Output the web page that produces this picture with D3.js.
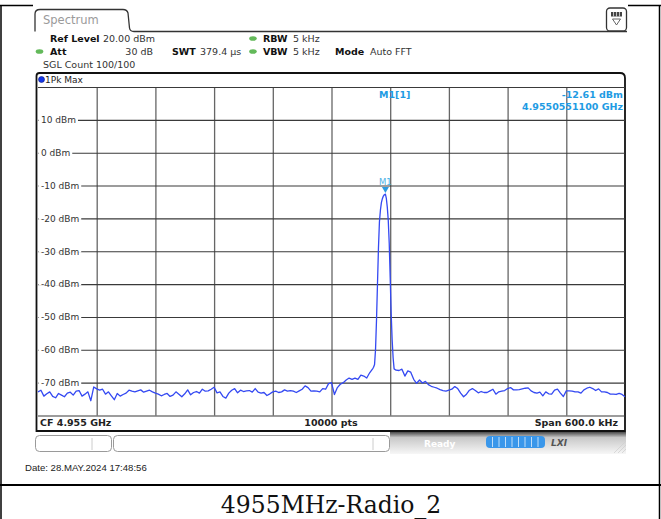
<!DOCTYPE html>
<html><head><meta charset="utf-8">
<script src="https://cdn.jsdelivr.net/npm/d3@7"></script>
<style>html,body{margin:0;padding:0;background:#fff;}svg{display:block;}</style>
</head><body>
<svg id="c" width="661" height="519"></svg>
<script>
// ---------- data ----------
const caption = "4955MHz-Radio_2";
const tabTitle = "Spectrum";
const headerRow1 = [["Ref Level", "20.00 dBm"], ["RBW", "5 kHz"]];
const headerRow2 = [["Att", "30 dB"], ["SWT", "379.4 µs"], ["VBW", "5 kHz"], ["Mode", "Auto FFT"]];
const sglCount = "SGL Count 100/100";
const traceName = "1Pk Max";
const levelTicks = [10, 0, -10, -20, -30, -40, -50, -60, -70];
const levelTickLabels = ["10 dBm", "0 dBm", "-10 dBm", "-20 dBm", "-30 dBm", "-40 dBm", "-50 dBm", "-60 dBm", "-70 dBm"];
const levelRange = [-80, 20];
const spanKHz = [-300, 300];
const freqGridKHz = [-240, -180, -120, -60, 0, 60, 120, 180, 240];
const footerLabels = ["CF 4.955 GHz", "10000 pts", "Span 600.0 kHz"];
const markerName = "M1";
const markerKHz = 55.11;
const markerDbm = -12.61;
const markerReadout = ["M1[1]", "-12.61 dBm", "4.9550551100 GHz"];
const statusText = "Ready";
const dateText = "Date: 28.MAY.2024  17:48:56";
// trace: [offset from CF in kHz, level in dBm]
const trace = [
[-300,-72.8],[-297,-72.3],[-294,-74.1],[-291,-73.4],[-288,-72.8],[-285,-74.2],[-282,-74.6],[-279,-73.3],[-276,-73.8],[-273,-74.3],
[-270,-73.2],[-267,-72.9],[-264,-73.8],[-261,-72.6],[-258,-72.4],[-255,-74.1],[-252,-73.5],[-249,-72.8],[-246,-75.5],[-243,-71.3],
[-240,-71.9],[-237,-72.3],[-234,-72.0],[-231,-73.5],[-228,-72.8],[-225,-74.0],[-222,-75.2],[-219,-73.3],[-216,-74.1],[-213,-73.6],
[-210,-73.2],[-207,-72.3],[-204,-72.6],[-201,-72.8],[-198,-72.5],[-195,-72.2],[-192,-72.9],[-189,-72.6],[-186,-72.3],[-183,-72.8],
[-180,-73.2],[-177,-73.5],[-174,-74.0],[-171,-73.6],[-168,-73.3],[-165,-74.2],[-162,-73.8],[-159,-72.8],[-156,-73.5],[-153,-74.3],
[-150,-73.4],[-147,-72.2],[-144,-73.7],[-141,-73.0],[-138,-72.7],[-135,-73.2],[-132,-72.0],[-129,-72.6],[-126,-72.5],[-123,-72.0],
[-120,-71.4],[-117,-73.1],[-114,-72.8],[-111,-74.2],[-108,-74.7],[-105,-73.2],[-102,-72.3],[-99,-71.8],[-96,-73.1],[-93,-72.3],
[-90,-72.7],[-87,-72.5],[-84,-72.4],[-81,-72.9],[-78,-71.8],[-75,-72.9],[-72,-73.2],[-69,-73.0],[-66,-73.9],[-63,-73.4],
[-60,-72.8],[-57,-72.6],[-54,-73.0],[-51,-72.8],[-48,-72.2],[-45,-72.6],[-42,-72.4],[-39,-72.6],[-36,-73.0],[-33,-72.5],
[-30,-72.0],[-27,-71.0],[-24,-71.5],[-21,-72.6],[-18,-72.5],[-15,-72.6],[-12,-72.8],[-9,-71.8],[-6,-72.0],[-3,-70.3],
[0,-70.0],[3,-73.6],[6,-71.5],[9,-70.5],[12,-70.0],[15,-69.2],[18,-68.6],[21,-69.0],[24,-68.6],[27,-69.0],
[30,-67.7],[33,-68.0],[36,-68.6],[39,-67.0],[42,-65.8],[43,-65.3],[44,-64.5],[45,-60],[46,-51],[47,-40],
[48,-29],[49,-21],[50,-17.5],[51,-15.2],[52,-14.0],[53,-13.2],[54,-12.8],[55.1,-12.61],[56,-13.8],[57,-16.5],
[58,-20.5],[59,-27.5],[60,-38],[61,-49],[62,-57],[63,-62.5],[64,-65.8],[66,-66.2],[69,-66.3],[72,-65.9],
[75,-68.0],[78,-66.4],[81,-66.8],[84,-69.0],[87,-70.2],[90,-69.2],[93,-70.1],[96,-69.6],[99,-70.6],[102,-71.1],
[105,-71.4],[108,-71.7],[111,-72.1],[114,-72.4],[117,-72.6],[120,-72.3],[123,-72.0],[126,-71.2],[129,-71.8],[132,-73.2],
[135,-74.3],[138,-73.5],[141,-72.3],[144,-71.8],[147,-72.4],[150,-73.1],[153,-72.7],[156,-73.0],[159,-73.0],[162,-72.5],
[165,-72.0],[168,-73.5],[171,-72.8],[174,-72.6],[177,-72.4],[180,-71.8],[183,-71.5],[186,-72.2],[189,-72.2],[192,-72.1],
[195,-71.9],[198,-71.7],[201,-71.6],[204,-72.5],[207,-73.0],[210,-73.2],[213,-72.9],[216,-74.0],[219,-72.8],[222,-73.4],
[225,-73.5],[228,-72.3],[231,-72.0],[234,-73.2],[237,-74.2],[240,-72.5],[243,-72.5],[246,-72.6],[249,-72.8],[252,-72.8],
[255,-73.2],[258,-72.2],[261,-71.7],[264,-71.4],[267,-71.8],[270,-72.4],[273,-71.9],[276,-72.8],[279,-72.8],[282,-73.0],
[285,-73.5],[288,-73.5],[291,-73.6],[294,-73.3],[297,-73.6],[300,-74.3]
];

// ---------- layout ----------
const svg = d3.select("#c");
const W = 661, H = 519;
const P = {left: 38, right: 625, top: 87, bottom: 415.5};
const FONT = "'DejaVu Sans', Verdana, sans-serif";
const BLUE_TXT = "#1e9be3";

const x = d3.scaleLinear().domain(spanKHz).range([P.left, P.right]);
const y = d3.scaleLinear().domain(levelRange).range([P.bottom, P.top]);

// outer table frame
svg.append("rect").attr("width", W).attr("height", H).attr("fill", "#fff");
svg.append("line").attr("x1", 0).attr("x2", W).attr("y1", 5.5).attr("y2", 5.5).attr("stroke", "#000").attr("stroke-width", 1.5);
svg.append("line").attr("x1", 1).attr("x2", 1).attr("y1", 5).attr("y2", H).attr("stroke", "#000").attr("stroke-width", 1.5);
svg.append("line").attr("x1", 659.5).attr("x2", 659.5).attr("y1", 5).attr("y2", H).attr("stroke", "#000").attr("stroke-width", 1.5);
svg.append("rect").attr("x", 33).attr("y", 3).attr("width", 595).attr("height", 478).attr("fill", "#fff");
svg.append("line").attr("x1", 0).attr("x2", W).attr("y1", 485).attr("y2", 485).attr("stroke", "#000").attr("stroke-width", 2.2);

// caption
svg.append("text").attr("x", 331).attr("y", 513).attr("text-anchor", "middle")
  .attr("font-family", "'DejaVu Serif', 'Liberation Serif', serif").attr("font-size", 23.5)
  .attr("fill", "#111").text(caption);

// tab
svg.append("path")
  .attr("d", "M35,31.5 V14 Q35,9.5 40,9.5 H123 Q127,9.5 128,13 L129.5,28 Q130,31.5 134,31.5 H627")
  .attr("fill", "none").attr("stroke", "#333").attr("stroke-width", 1.3);
svg.append("text").attr("x", 43).attr("y", 23.5).attr("font-family", FONT).attr("font-size", 11.5)
  .attr("fill", "#9a9a9a").text(tabTitle);
const ic = svg.append("g");
ic.append("rect").attr("x", 606.5).attr("y", 8).attr("width", 20).attr("height", 23).attr("rx", 3.5)
  .attr("fill", "#fff").attr("stroke", "#333").attr("stroke-width", 1.3);
ic.append("rect").attr("x", 611).attr("y", 12).attr("width", 11).attr("height", 4.5).attr("fill", "#444");
[613.5, 616.5, 619.5].forEach(v => ic.append("line").attr("x1", v).attr("x2", v).attr("y1", 12).attr("y2", 16.5).attr("stroke", "#ddd").attr("stroke-width", 0.8));
ic.append("path").attr("d", "M612.5,19 H620.5 L616.5,25 Z").attr("fill", "none").attr("stroke", "#555").attr("stroke-width", 0.9);

// header
function led(cx, cy) {
  svg.append("ellipse").attr("cx", cx).attr("cy", cy).attr("rx", 3.8).attr("ry", 2.3).attr("fill", "#63b95a");
}
function pair(xl, xv, yb, lab, val, anchorEnd) {
  svg.append("text").attr("x", xl).attr("y", yb).attr("font-family", FONT).attr("font-size", 9.5)
    .attr("font-weight", "bold").attr("fill", "#111").text(lab);
  svg.append("text").attr("x", xv).attr("y", yb).attr("font-family", FONT).attr("font-size", 9.5)
    .attr("text-anchor", anchorEnd ? "end" : "start").attr("fill", "#333").text(val);
}
pair(50, 103, 41.5, headerRow1[0][0], headerRow1[0][1]);
led(253, 38.5);
pair(263, 293, 41.5, headerRow1[1][0], headerRow1[1][1]);
led(39.5, 51.5);
pair(50, 153, 55, headerRow2[0][0], headerRow2[0][1], true);
pair(172, 200, 55, headerRow2[1][0], headerRow2[1][1]);
led(253, 51.5);
pair(263, 293, 55, headerRow2[2][0], headerRow2[2][1]);
pair(335, 370, 55, headerRow2[3][0], headerRow2[3][1]);
svg.append("text").attr("x", 43).attr("y", 67.5).attr("font-family", FONT).attr("font-size", 9.5)
  .attr("fill", "#333").text(sglCount);

// plot frame
svg.append("path")
  .attr("d", `M36.5,431 V76 Q36.5,73 39.5,73 H620 Q625,73 625,78 V431 Z`)
  .attr("fill", "#fff").attr("stroke", "#111").attr("stroke-width", 1.8);
svg.append("circle").attr("cx", 41.5).attr("cy", 79.5).attr("r", 3).attr("fill", "#1537e6").attr("stroke", "#0a1a80").attr("stroke-width", 0.6);
svg.append("text").attr("x", 45).attr("y", 83).attr("font-family", FONT).attr("font-size", 9)
  .attr("fill", "#222").text(traceName);

// grid via axes
const gridV = svg.append("g").attr("transform", `translate(0,${P.bottom})`)
  .call(d3.axisBottom(x).tickValues(freqGridKHz).tickSize(-(P.bottom - P.top)).tickFormat(""));
gridV.select(".domain").remove();
gridV.selectAll("line").attr("stroke", "#666").attr("stroke-width", 1.3);

const gridH = svg.append("g").attr("transform", `translate(${P.left},0)`)
  .call(d3.axisLeft(y).tickValues(levelRange.concat(levelTicks)).tickSize(-(P.right - P.left)).tickFormat(""));
gridH.select(".domain").remove();
gridH.selectAll("line").attr("stroke", "#3a3a3a").attr("stroke-width", 1.1);

// level labels with white backing
const lab = svg.append("g");
levelTicks.forEach((v, i) => {
  const t = lab.append("text").attr("x", 41).attr("y", y(v) + 3.3).attr("font-family", FONT)
    .attr("font-size", 9).attr("fill", "#333").text(levelTickLabels[i]);
  const w = t.node().getComputedTextLength();
  lab.insert("rect", "text").attr("x", P.left + 0.5).attr("y", y(v) - 1.5).attr("width", w + 4.5).attr("height", 3).attr("fill", "#fff");
});

// footer row inside frame
svg.append("text").attr("x", 40).attr("y", 426).attr("font-family", FONT).attr("font-size", 9.5).attr("font-weight", "bold").attr("fill", "#222").text(footerLabels[0]);
svg.append("text").attr("x", 331).attr("y", 426).attr("text-anchor", "middle").attr("font-family", FONT).attr("font-size", 9.5).attr("font-weight", "bold").attr("fill", "#222").text(footerLabels[1]);
svg.append("text").attr("x", 618).attr("y", 426).attr("text-anchor", "end").attr("font-family", FONT).attr("font-size", 9.5).attr("font-weight", "bold").attr("fill", "#222").text(footerLabels[2]);

// trace
svg.append("path").datum(trace)
  .attr("d", d3.line().x(d => x(d[0])).y(d => y(d[1])))
  .attr("fill", "none").attr("stroke", "#3449f2").attr("stroke-width", 1.3).attr("stroke-linejoin", "round");

// marker
const mx = x(markerKHz), my = y(markerDbm);
svg.append("path").attr("d", `M${mx - 3.5},${my - 7} H${mx + 3.5} L${mx},${my - 1} Z`).attr("fill", "#2a9be0");
svg.append("text").attr("x", mx).attr("y", my - 9.5).attr("text-anchor", "middle").attr("font-family", FONT)
  .attr("font-size", 8.5).attr("fill", "#4fb2e6").text(markerName);

// marker readout
svg.append("text").attr("x", 379).attr("y", 98).attr("font-family", FONT).attr("font-size", 9.5).attr("font-weight", "bold").attr("fill", BLUE_TXT).text(markerReadout[0]);
svg.append("text").attr("x", 623).attr("y", 98).attr("text-anchor", "end").attr("font-family", FONT).attr("font-size", 9.5).attr("font-weight", "bold").attr("fill", BLUE_TXT).text(markerReadout[1]);
svg.append("text").attr("x", 623).attr("y", 110).attr("text-anchor", "end").attr("font-family", FONT).attr("font-size", 9.5).attr("font-weight", "bold").attr("fill", BLUE_TXT).text(markerReadout[2]);

// status bar
const defs = svg.append("defs");
const g1 = defs.append("linearGradient").attr("id", "sb").attr("x1", 0).attr("y1", 0).attr("x2", 0).attr("y2", 1);
g1.append("stop").attr("offset", 0).attr("stop-color", "#4a4a4a");
g1.append("stop").attr("offset", 0.25).attr("stop-color", "#c8c8c8");
g1.append("stop").attr("offset", 1).attr("stop-color", "#f7f7f7");
svg.append("rect").attr("x", 390).attr("y", 432).attr("width", 236).attr("height", 22).attr("fill", "url(#sb)");
svg.append("rect").attr("x", 35.5).attr("y", 435.5).attr("width", 76).attr("height", 16).attr("rx", 4).attr("fill", "#fff").attr("stroke", "#9a9a9a");
svg.append("line").attr("x1", 92).attr("x2", 92).attr("y1", 438).attr("y2", 450).attr("stroke", "#ccc");
svg.append("rect").attr("x", 113.5).attr("y", 435.5).attr("width", 276).attr("height", 16).attr("rx", 4).attr("fill", "#fff").attr("stroke", "#9a9a9a");
svg.append("line").attr("x1", 373).attr("x2", 373).attr("y1", 438).attr("y2", 450).attr("stroke", "#ccc");
svg.append("text").attr("x", 424).attr("y", 446.5).attr("font-family", FONT).attr("font-size", 9).attr("font-weight", "bold").attr("fill", "#fff").text(statusText);
svg.append("rect").attr("x", 486).attr("y", 436).attr("width", 59).attr("height", 12).attr("rx", 4).attr("fill", "#3a97ea");
d3.range(1, 9).forEach(k => svg.append("line").attr("x1", 486 + k * 6.5).attr("x2", 486 + k * 6.5).attr("y1", 437).attr("y2", 447).attr("stroke", "#cfe6fb").attr("stroke-width", 0.9));
svg.append("text").attr("x", 551).attr("y", 446).attr("font-family", FONT).attr("font-size", 9).attr("font-weight", "bold").attr("font-style", "italic").attr("fill", "#555").text("LXI");
[0, 4, 8].forEach(o => svg.append("line").attr("x1", 614 + o).attr("y1", 453).attr("x2", 626).attr("y2", 441 + o).attr("stroke", "#d0d0d0").attr("stroke-width", 0.8));

// date
svg.append("text").attr("x", 25).attr("y", 471).attr("font-family", "'Liberation Sans', Arial, sans-serif").attr("font-size", 9.6).attr("fill", "#222").text(dateText);
</script>
</body></html>
